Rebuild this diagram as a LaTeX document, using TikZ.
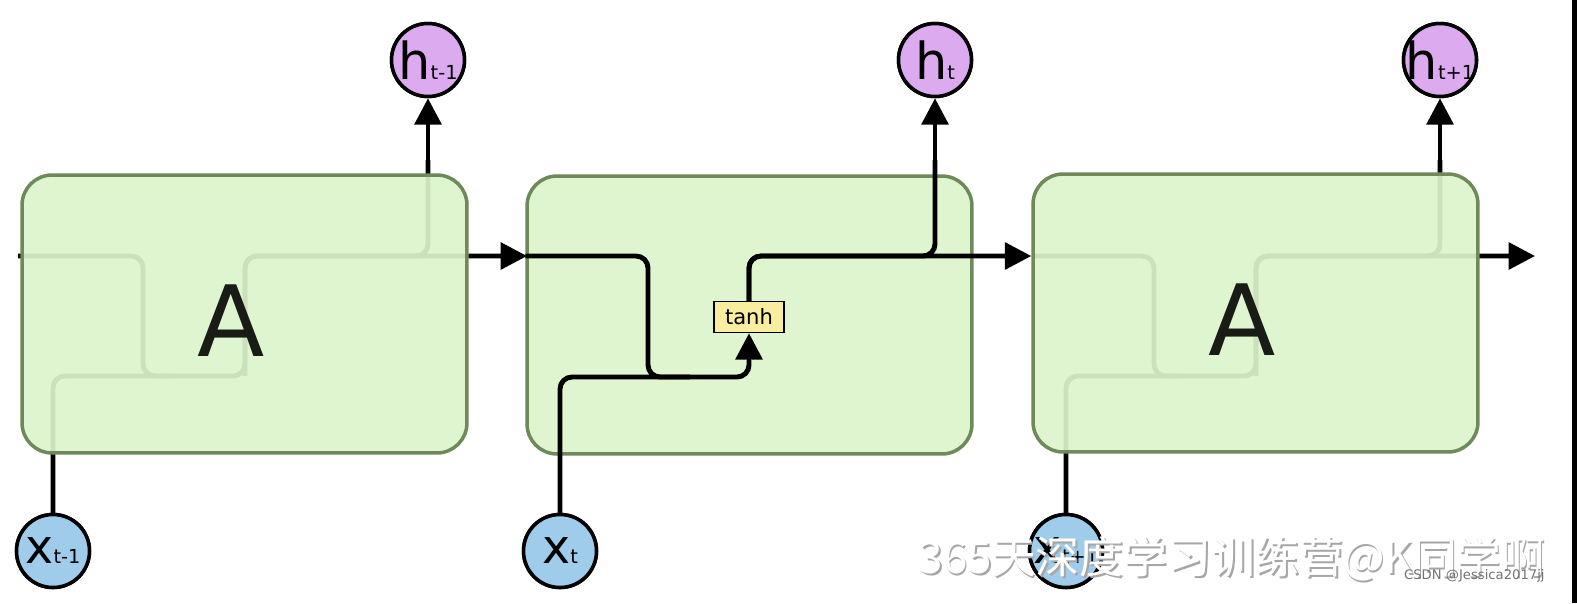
\documentclass[tikz,border=0pt]{standalone}
\usepackage{fontspec}
\setmainfont{DejaVu Sans}
\newfontfamily\cjk{Noto Sans CJK SC}
\usetikzlibrary{arrows.meta}
\definecolor{cellfill}{RGB}{220,245,204}
\definecolor{cellline}{RGB}{111,138,90}
\definecolor{hfill}{RGB}{220,170,238}
\definecolor{xfill}{RGB}{160,204,236}
\definecolor{tanhfill}{RGB}{249,238,160}
\definecolor{letter}{RGB}{25,27,22}
\tikzset{
  cell/.style={draw=cellline, line width=2pt, fill=cellfill, fill opacity=0.92, draw opacity=1,
    rounded corners=0.6cm, minimum width=8.9cm, minimum height=5.56cm, inner sep=0pt},
  hnode/.style={circle, draw=black, line width=2pt, fill=hfill, minimum size=1.46cm, inner sep=0pt},
  xnode/.style={circle, draw=black, line width=2pt, fill=xfill, minimum size=1.46cm, inner sep=0pt},
  lab/.style={inner sep=0pt},
  wire/.style={line width=2.8pt, rounded corners=0.24cm},
  arr/.style={wire, -{Triangle[length=15pt,width=15pt]}},
  tanhbox/.style={draw=black, line width=0.8pt, fill=tanhfill, minimum width=1.4cm, minimum height=0.62cm, inner sep=0pt, font=\fontsize{12}{12}\selectfont},
  bigA/.style={text=letter, font=\fontsize{56}{56}\selectfont, inner sep=0pt},
}
\newcommand{\hlab}[1]{{\fontsize{29}{29}\selectfont h}{\fontsize{11}{11}\selectfont #1}}
\newcommand{\xlab}[1]{{\fontsize{27}{27}\selectfont x}{\fontsize{11}{11}\selectfont #1}}
\begin{document}
\begin{tikzpicture}[x=0.02cm,y=-0.02cm]
\useasboundingbox (0,0) rectangle (1577,603);
\fill[white] (0,0) rectangle (1577,603);
\coordinate (r) at (0,256);
% circle nodes (positions)
\node[hnode] (ha) at (428,60) {};
\node[hnode] (hb) at (935,60) {};
\node[hnode] (hc) at (1440,60) {};
\node[xnode] (xa) at (53,551) {};
\node[xnode] (xb) at (560,551) {};
\node[xnode] (xc) at (1066,551) {};
\path (244.5,314) coordinate (c1) (749.5,315) coordinate (c2) (1255.5,313) coordinate (c3);
% ghost wires of cell 1
\draw[wire] (18,256) -- (143,256) -- (143,376) -- (245,376) -- (245,256) -- (428,256) -- (428,160);
\draw[arr] (428,200) -- (ha.south);
\draw[arr] (245,376) -- (245,256) -- (527,256);
\draw[wire] (xa.north) -- (53,376) -- (170,376);
% ghost wires of cell 3
\draw[wire] (1033,256) -- (1154,256) -- (1154,376) -- (1256,376) -- (1256,256) -- (1440,256) -- (1440,160);
\draw[arr] (1440,200) -- (hc.south);
\draw[arr] (1256,376) -- (1256,256) -- (1535,256);
\draw[wire] (xc.north) -- (1066,376) -- (1180,376);
% cells
\node[cell] (A1) at (c1) {};
\node[cell] (A3) at (c3) {};
\node[cell] (A2) at (c2) {};
\node[bigA] (L1) at (231,321) {A};
\node[bigA] (L3) at (1242,320) {A};
% cell 2 wires
\node[tanhbox] (th) at (749,317) {tanh};
\draw[wire] (A2.west |- r) -- (648,256) -- (648,377) -- (749,377) -- (749,360);
\draw[arr] (749,365) -- (th.south);
\draw[wire] (xb.north) -- (560,377) -- (690,377);
\draw[wire] (th.north) -- (749,256) -- (935,256) -- (935,160);
\draw[arr] (935,200) -- (hb.south);
\draw[arr] (th.north) -- (749,256) -- (A3.west |- r);
% circles on top, with their labels
\node[hnode] (ha2) at (ha) {};
\node[hnode] (hb2) at (hb) {};
\node[hnode] (hc2) at (hc) {};
\node[xnode] (xa2) at (xa) {};
\node[xnode] (xb2) at (xb) {};
\node[xnode] (xc2) at (xc) {};
\node[lab] (tha) at (ha) {\hlab{t-1}};
\node[lab] (thb) at (hb) {\hlab{t}};
\node[lab] (thc) at (hc) {\hlab{t+1}};
\node[lab] (txa) at (xa) {\xlab{t-1}};
\node[lab] (txb) at (xb) {\xlab{t}};
\node[lab] (txc) at (xc) {\xlab{t+1}};
% watermark
\node[text=black!35, font=\cjk\fontsize{25}{25}\selectfont, inner sep=0pt] (wm0) at (1233.5,560.5) {365天深度学习训练营@K同学啊};
\node[text=white, font=\cjk\fontsize{25}{25}\selectfont, inner sep=0pt] (wm) at (1232,559) {365天深度学习训练营@K同学啊};
\node[text=black!55, font=\fontsize{7.5}{7.5}\selectfont, anchor=east, inner sep=0pt] (csdn) at (1545,576) {CSDN @Jessica2017jj};
% right edge bar
\fill[black] (1572,0) rectangle (1577,603);
\end{tikzpicture}
\end{document}
